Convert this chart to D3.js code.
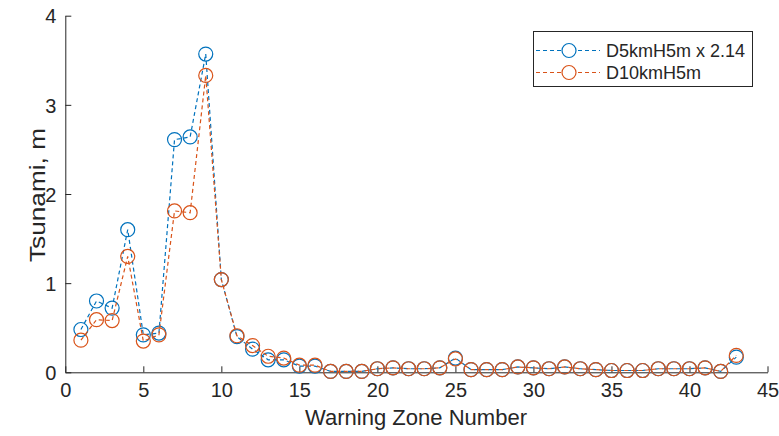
<!DOCTYPE html>
<html><head><meta charset="utf-8">
<script src="https://cdn.jsdelivr.net/npm/d3@7"></script>
<style>body{margin:0;background:#fff}svg{display:block}text{font-family:"Liberation Sans",Arial,sans-serif}</style>
</head><body><svg id="c" width="779" height="436"></svg>
<script>
const zones = d3.range(1, 44);
const seriesNames = ["D5kmH5m x 2.14", "D10kmH5m"];
const blueVals = [0.48,0.80,0.72,1.60,0.42,0.44,2.61,2.64,3.57,1.04,0.40,0.26,0.14,0.14,0.07,0.07,0.01,0.01,0.01,0.04,0.05,0.04,0.04,0.05,0.16,0.03,0.03,0.03,0.06,0.05,0.04,0.06,0.04,0.03,0.02,0.02,0.02,0.04,0.04,0.04,0.05,0.01,0.17];
const orangeVals = [0.36,0.59,0.58,1.30,0.35,0.42,1.81,1.79,3.33,1.04,0.41,0.30,0.18,0.16,0.08,0.08,0.01,0.01,0.01,0.04,0.05,0.04,0.04,0.05,0.15,0.03,0.03,0.03,0.06,0.05,0.04,0.06,0.04,0.03,0.02,0.02,0.02,0.04,0.04,0.04,0.05,0.01,0.19];
const xTicks = [0,5,10,15,20,25,30,35,40,45];
const yTicks = [0,1,2,3,4];
const colors = ["#0072BD", "#D95319"];

const svg = d3.select("#c");
const x = d3.scaleLinear().domain([0,45]).range([65.3,767.5]);
const y = d3.scaleLinear().domain([0,4]).range([372.3,15.7]);
const axisColor = "#262626";

const xAxis = d3.axisBottom(x).tickValues(xTicks).tickFormat(d3.format("d")).tickSizeInner(-6).tickSizeOuter(0).tickPadding(10);
const gx = svg.append("g").attr("transform", `translate(0,${y(0)})`).call(xAxis);
const yAxis = d3.axisLeft(y).tickValues(yTicks).tickFormat(d3.format("d")).tickSizeInner(-6).tickSizeOuter(0).tickPadding(9);
const gy = svg.append("g").attr("transform", `translate(${x(0)},0)`).call(yAxis);
[gx, gy].forEach(g => {
  g.select(".domain").attr("stroke", axisColor).attr("stroke-width", 1);
  g.selectAll(".tick line").attr("stroke", axisColor);
  g.selectAll(".tick text").attr("fill", axisColor).style("font-size", "20px");
});
gx.selectAll(".tick text").attr("y", 0).attr("dy", 0).attr("transform", "translate(0,25)");
gy.selectAll(".tick text").attr("dy", "0.36em");

svg.append("text").attr("x", 416).attr("y", 425).attr("text-anchor","middle")
  .attr("textLength", 222).attr("lengthAdjust","spacingAndGlyphs")
  .attr("fill", axisColor).style("font-size","22px").text("Warning Zone Number");
svg.append("text").attr("transform", `translate(45,${y(2)+1}) rotate(-90)`).attr("text-anchor","middle")
  .attr("textLength", 134).attr("lengthAdjust","spacingAndGlyphs")
  .attr("fill", axisColor).style("font-size","22px").text("Tsunami, m");

const data = [blueVals, orangeVals];
const line = d3.line().x((d,i) => x(zones[i])).y(d => y(d));
data.forEach((vals, s) => {
  const g = svg.append("g");
  g.append("path").attr("d", line(vals)).attr("fill","none").attr("stroke", colors[s])
    .attr("stroke-width", 1.2).attr("stroke-dasharray", "4,3");
  g.selectAll("circle").data(vals).join("circle")
    .attr("cx", (d,i) => x(zones[i])).attr("cy", d => y(d)).attr("r", 7)
    .attr("fill","none").attr("stroke", colors[s]).attr("stroke-width", 1.2);
});

// legend
const lg = svg.append("g");
lg.append("rect").attr("x", 533.5).attr("y", 31.5).attr("width", 219).attr("height", 55)
  .attr("fill","#fff").attr("stroke", axisColor).attr("stroke-width", 1);
seriesNames.forEach((name, s) => {
  const yy = 50.5 + s*22;
  lg.append("line").attr("x1", 536).attr("x2", 600).attr("y1", yy).attr("y2", yy)
    .attr("stroke", colors[s]).attr("stroke-width", 1.2).attr("stroke-dasharray","4,3");
  lg.append("circle").attr("cx", 569).attr("cy", yy).attr("r", 7)
    .attr("fill","#fff").attr("stroke", colors[s]).attr("stroke-width", 1.2);
  lg.append("text").attr("x", 606).attr("y", yy).attr("dy","0.36em")
    .attr("fill", axisColor).style("font-size","18px").text(name);
});
</script></body></html>
